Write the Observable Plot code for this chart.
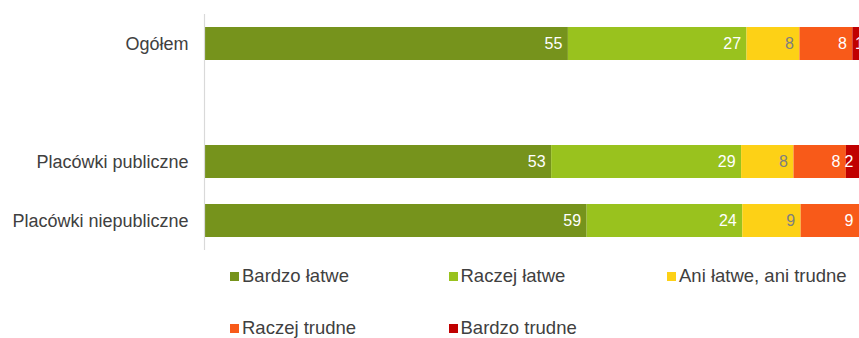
<!DOCTYPE html>
<html>
<head>
<meta charset="utf-8">
<script src="https://cdn.jsdelivr.net/npm/d3@7"></script>
<script src="https://cdn.jsdelivr.net/npm/@observablehq/plot@0.6"></script>
<style>
  html, body { margin: 0; padding: 0; background: #fff; }
  #wrap { position: relative; width: 859px; height: 338px; overflow: hidden; font-family: Arial, "Liberation Sans", sans-serif; }
  .leg { position: absolute; display: flex; align-items: center; font-size: 18.5px; color: #404040; white-space: nowrap; transform: translateY(-50%); }
  .leg span.sw { display: inline-block; width: 9px; height: 9px; margin-right: 3px; }
</style>
</head>
<body>
<div id="wrap"></div>
<script>
// Categories (blank row between "Ogółem" and the split)
const categories = ["Ogółem", " ", "Placówki publiczne", "Placówki niepubliczne"];
const groups = ["Ogółem", "Placówki publiczne", "Placówki niepubliczne"];
const seriesNames = ["Bardzo łatwe", "Raczej łatwe", "Ani łatwe, ani trudne", "Raczej trudne", "Bardzo trudne"];
const seriesColors = ["#76931c", "#99c21e", "#fdd116", "#f85a19", "#c00000"];
const labelColors = ["#ffffff", "#ffffff", "#7f7f7f", "#ffffff", "#ffffff"];

const bardzoLatwe  = [55, 53, 59];
const raczejLatwe  = [27, 29, 24];
const aniAni       = [8, 8, 9];
const raczejTrudne = [8, 8, 9];
const bardzoTrudne = [1, 2, 0];

const seriesValues = [bardzoLatwe, raczejLatwe, aniAni, raczejTrudne, bardzoTrudne];

const data = [];
groups.forEach((g, gi) => {
  seriesNames.forEach((s, si) => {
    data.push({group: g, series: s, value: seriesValues[si][gi],
               color: seriesColors[si], labelColor: labelColors[si]});
  });
});

const stackOpts = {x: "value", y: "group", z: "series", order: seriesNames, offset: "normalize"};
const labelOpts = {text: d => String(d.value), fill: "labelColor", fontSize: 16};

const chart = Plot.plot({
  width: 859,
  height: 256,
  marginLeft: 204,
  marginRight: 0,
  marginTop: 14,
  marginBottom: 6,
  style: {fontFamily: "Arial, 'Liberation Sans', sans-serif", color: "#404040", background: "transparent", overflow: "visible"},
  x: {axis: null},
  y: {domain: categories, paddingInner: 0.44, paddingOuter: 0.22, axis: null},
  color: {type: "identity"},
  marks: [
    Plot.barX(data, Plot.stackX({...stackOpts, fill: "color"})),
    // labels at the inside end of each segment
    Plot.text(data, Plot.filter(d => d.value >= 2,
      Plot.stackX2({...stackOpts, ...labelOpts, textAnchor: "end", dx: -6}))),
    // very narrow segments: label starts at the segment's left edge
    Plot.text(data, Plot.filter(d => d.value > 0 && d.value < 2,
      Plot.stackX1({...stackOpts, ...labelOpts, textAnchor: "start", dx: 2}))),
    Plot.ruleX([0], {stroke: "#d9d9d9", strokeWidth: 1.2}),
    Plot.axisY({tickSize: 0, tickPadding: 16, fontSize: 18, label: null})
  ]
});
chart.style.position = "absolute";
chart.style.left = "0px";
chart.style.top = "0px";
const wrap = document.getElementById("wrap");
wrap.appendChild(chart);

// Legend (HTML, below the plot)
seriesNames.forEach((s, i) => {
  const col = i % 3, row = Math.floor(i / 3);
  const el = document.createElement("div");
  el.className = "leg";
  el.style.left = (230 + col * 218.5) + "px";
  el.style.top = (276 + row * 52) + "px";
  const sw = document.createElement("span");
  sw.className = "sw";
  sw.style.background = seriesColors[i];
  el.appendChild(sw);
  el.appendChild(document.createTextNode(s));
  wrap.appendChild(el);
});
</script>
</body>
</html>
